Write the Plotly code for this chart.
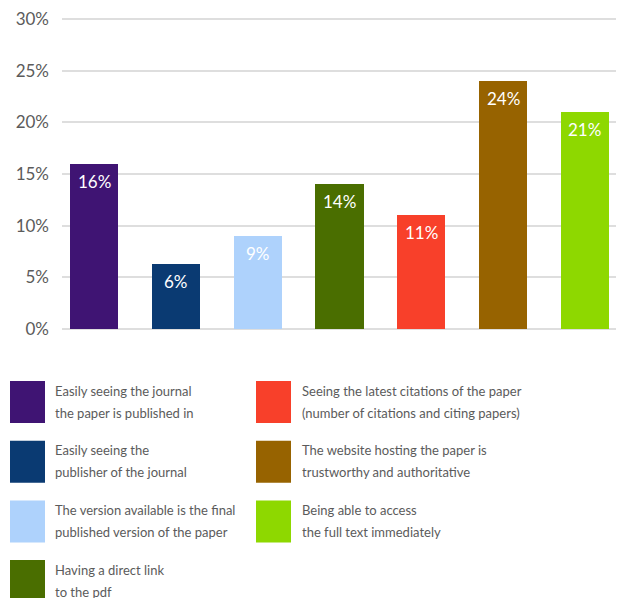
import plotly.graph_objects as go

# ---- data ----
categories = [
    "Easily seeing the journal\nthe paper is published in",
    "Easily seeing the\npublisher of the journal",
    "The version available is the final\npublished version of the paper",
    "Having a direct link\nto the pdf",
    "Seeing the latest citations of the paper\n(number of citations and citing papers)",
    "The website hosting the paper is\ntrustworthy and authoritative",
    "Being able to access\nthe full text immediately",
]
values = [16, 6.3, 9, 14, 11, 24, 21]
value_labels = ["16%", "6%", "9%", "14%", "11%", "24%", "21%"]
colors = ["#3f1473", "#0a3a72", "#aed2fc", "#4a6e00", "#f8402a", "#976300", "#8ed800"]
tick_vals = [0, 5, 10, 15, 20, 25, 30]
tick_text = ["0%", "5%", "10%", "15%", "20%", "25%", "30%"]

FONT = "Lato, 'Open Sans', sans-serif"
GREY = "#5b5b5b"

# figure is placed at an 8px page offset; work in figure pixels
W, H = 616, 590
PL, PR, PT, PB = 54, 616, 10, 321   # plot area in figure pixels


def px_x(x):
    return (x - PL) / (PR - PL)


def px_y(y):
    return (PB - y) / (PB - PT)


xs = list(range(len(values)))

fig = go.Figure()
fig.add_trace(go.Bar(
    x=xs, y=values,
    marker=dict(color=colors, line=dict(width=0)),
    width=0.587,
    showlegend=False,
    hoverinfo="skip",
))

# value labels inside the top of each bar
for x, v, lab in zip(xs, values, value_labels):
    fig.add_annotation(
        x=x, y=v, xref="x", yref="y",
        text=lab, showarrow=False,
        xanchor="center", yanchor="middle", yshift=-17.5,
        font=dict(family=FONT, size=17, color="white"),
    )

# ---- legend built from shapes + annotations ----
col_sq_x = [2, 248]
col_tx_x = [45, 292]
row_y0 = 373
row_step = 59.7
for i, cat in enumerate(categories):
    col = 0 if i < 4 else 1
    row = i if i < 4 else i - 4
    y0 = row_y0 + row * row_step
    fig.add_shape(
        type="rect", xref="paper", yref="paper",
        x0=px_x(col_sq_x[col]), x1=px_x(col_sq_x[col] + 35),
        y0=px_y(y0 + 42), y1=px_y(y0),
        fillcolor=colors[i], line=dict(width=0),
    )
    for j, line in enumerate(cat.split("\n")):
        ly = y0 + 9.5 + j * 22
        fig.add_annotation(
            xref="paper", yref="paper",
            x=px_x(col_tx_x[col]), y=px_y(ly),
            xanchor="left", yanchor="middle",
            text=line, showarrow=False,
            font=dict(family=FONT, size=13, color=GREY),
        )

fig.update_layout(
    width=W, height=H,
    margin=dict(l=PL, r=W - PR, t=PT, b=H - PB, autoexpand=False),
    paper_bgcolor="white", plot_bgcolor="white",
    font=dict(family=FONT, color=GREY),
    bargap=0,
    xaxis=dict(range=[-0.391, 6.477], showgrid=False, showticklabels=False,
               zeroline=False, showline=False, fixedrange=True),
    yaxis=dict(range=[0, 30.1], tickvals=tick_vals, ticktext=tick_text,
               showgrid=True, gridcolor="#dedede", gridwidth=2,
               zeroline=True, zerolinecolor="#dedede", zerolinewidth=2,
               showline=False, ticks="", ticklabelstandoff=12,
               ticklabeloverflow="allow",
               tickfont=dict(family=FONT, size=17, color=GREY), fixedrange=True),
)

fig.write_html("out.html")
